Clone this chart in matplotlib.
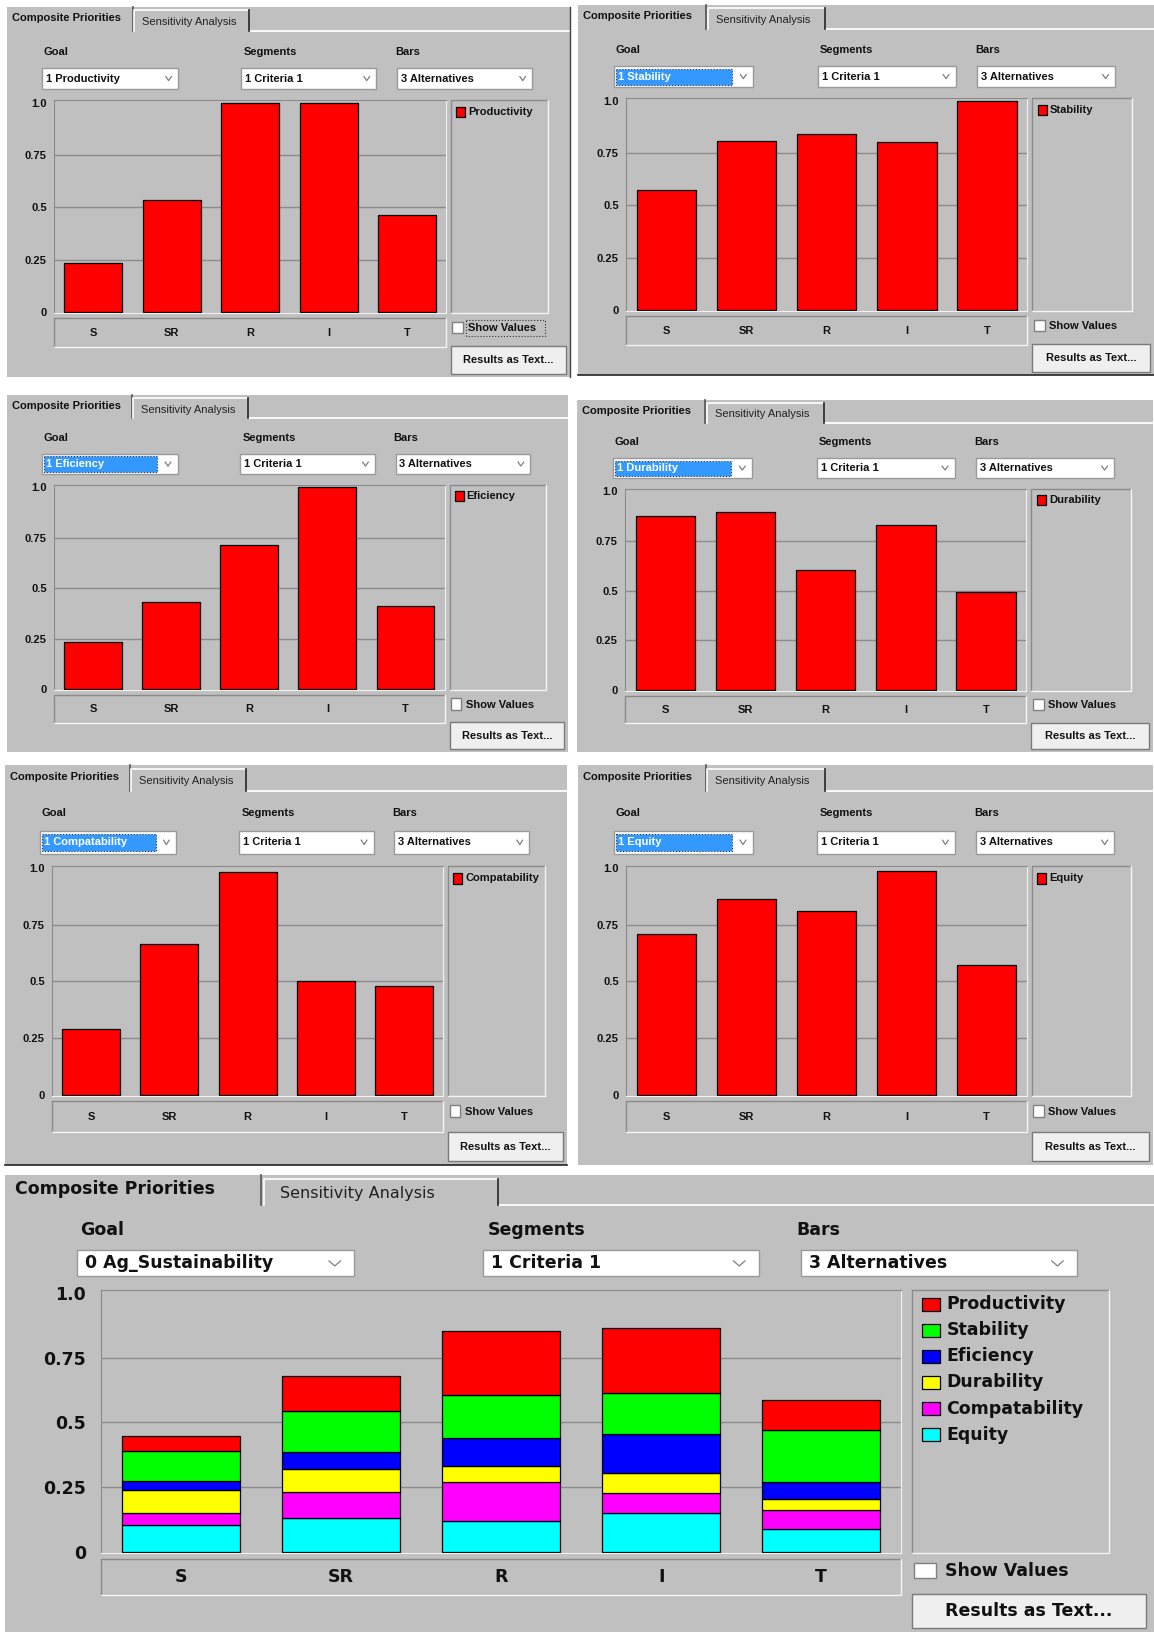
import matplotlib
matplotlib.use('Agg')
import matplotlib.pyplot as plt
from matplotlib.patches import Rectangle
import numpy as np

W, H = 1154, 1632
GRAY = '#c0c0c0'

alternatives = ['S', 'SR', 'R', 'I', 'T']
criteria = ['Productivity', 'Stability', 'Eficiency', 'Durability', 'Compatability', 'Equity']
crit_colors = ['#ff0000', '#00ff00', '#0000ff', '#ffff00', '#ff00ff', '#00ffff']

# local priorities of the alternatives under each criterion
productivity = [0.235, 0.535, 1.0, 1.0, 0.465]
stability = [0.575, 0.805, 0.842, 0.800, 1.0]
eficiency = [0.235, 0.434, 0.715, 1.0, 0.412]
durability = [0.875, 0.895, 0.604, 0.829, 0.490]
compatability = [0.291, 0.666, 0.982, 0.500, 0.481]
equity = [0.709, 0.866, 0.810, 0.987, 0.575]

# composite (Ag_Sustainability) segments per criterion
seg_productivity = [0.056, 0.136, 0.249, 0.251, 0.116]
seg_stability = [0.116, 0.160, 0.168, 0.159, 0.199]
seg_eficiency = [0.036, 0.066, 0.108, 0.151, 0.066]
seg_durability = [0.089, 0.087, 0.060, 0.078, 0.044]
seg_compatability = [0.046, 0.101, 0.150, 0.077, 0.075]
seg_equity = [0.104, 0.131, 0.120, 0.150, 0.086]

fig = plt.figure(figsize=(W / 100, H / 100), dpi=100)
fig.patch.set_facecolor('white')
bg = fig.add_axes([0, 0, 1, 1])
bg.set_xlim(0, W)
bg.set_ylim(H, 0)
bg.axis('off')


def rect(x0, y0, x1, y1, fc, ec='none', lw=1, z=2, ls='-'):
    bg.add_patch(Rectangle((x0, y0), x1 - x0, y1 - y0, facecolor=fc, edgecolor=ec,
                           lw=lw, zorder=z, linestyle=ls))


def etched(x0, y0, x1, y1, z=3):
    rect(x0, y0, x1, y1, GRAY, z=z)
    bg.plot([x0, x0, x1], [y1, y0, y0], color='#8a8a8a', lw=1, zorder=z + 0.5)
    bg.plot([x0, x1, x1], [y1, y1, y0], color='#f4f4f4', lw=1, zorder=z + 0.5)


def draw_panel(box, goal, names, series, cols, legend_cols, highlight=False, focus=False, big=False):
    x0, y0, x1, y1 = box
    w, h = x1 - x0, y1 - y0
    X = lambda f: x0 + f * w
    Y = lambda f: y0 + f * h
    fam = 'DejaVu Sans' if big else 'Liberation Sans'
    fs = 12.5 if big else 8.0
    txt = dict(family=fam, fontsize=fs, fontweight='bold', color='#111111', va='center', zorder=8)

    rect(x0, y0, x1, y1, GRAY, z=1)

    # tabs
    bg.plot([X(0.429), x1], [Y(0.065)] * 2, color='white', lw=1.3, zorder=3)
    bg.plot([X(0.223)] * 2, [Y(0.0), Y(0.065)], color='#555555', lw=1.2, zorder=3)
    bg.plot([X(0.225), X(0.225), X(0.428)], [Y(0.065), Y(0.009), Y(0.009)], color='white', lw=1.2, zorder=3)
    bg.plot([X(0.429)] * 2, [Y(0.009), Y(0.065)], color='#333333', lw=1.3, zorder=3)
    bg.text(X(0.0085), Y(0.030), 'Composite Priorities', ha='left', **txt)
    t2 = dict(txt)
    t2.update(fontweight='normal', color='#222222', fontsize=fs * (0.92 if big else 1.0))
    bg.text(X(0.239), Y(0.041), 'Sensitivity Analysis', ha='left', **t2)

    # combo boxes
    for fx, lab in [(0.065, 'Goal'), (0.4205, 'Segments'), (0.689, 'Bars')]:
        bg.text(X(fx), Y(0.1205), lab, ha='left', **txt)
    combos = [(0.0628, 0.304, goal), (0.416, 0.656, '1 Criteria 1'), (0.6926, 0.933, '3 Alternatives')]
    for i, (fa, fb, lab) in enumerate(combos):
        rect(X(fa), Y(0.165), X(fb), Y(0.222), 'white', ec='#9a9a9a', lw=1, z=3)
        cx, cy = X(fb) - 0.017 * w, Y(0.1935)
        a, b = 0.005 * w, 0.0055 * h
        bg.plot([cx - a, cx, cx + a], [cy - b, cy + b, cy - b], color='#808080', lw=0.9, zorder=5)
        tc = '#111111'
        if i == 0 and highlight:
            rect(X(fa) + 0.003 * w, Y(0.172), X(fb) - 0.036 * w, Y(0.215), '#3399ff',
                 ec='#333333', lw=0.8, z=4, ls=':')
            tc = 'white'
        d = dict(txt)
        d['color'] = tc
        bg.text(X(fa) + 0.007 * w, Y(0.1935), lab, ha='left', **d)

    # chart
    ax = fig.add_axes([X(0.0837) / W, 1 - Y(0.827) / H, 0.6963 * w / W, 0.575 * h / H])
    ax.set_facecolor(GRAY)
    ax.set_xlim(-0.5, 4.5)
    ax.set_ylim(-0.005, 1.011)
    for v in (0.25, 0.5, 0.75):
        ax.axhline(v, color='#8c8c8c', lw=1, zorder=0)
    xpos = np.arange(len(alternatives))
    bottom = np.zeros(len(alternatives))
    for vals, c in zip(series, cols):
        ax.bar(xpos, vals, 0.74, bottom=bottom, color=c, edgecolor='black', lw=0.9, zorder=2)
        bottom += np.array(vals)
    for s in ('left', 'top'):
        ax.spines[s].set_color('#8a8a8a')
    for s in ('right', 'bottom'):
        ax.spines[s].set_color('#f2f2f2')
    ax.set_yticks([0, 0.25, 0.5, 0.75, 1.0])
    ax.set_yticklabels(['0', '0.25', '0.5', '0.75', '1.0'])
    ax.set_xticks(xpos)
    ax.set_xticklabels(alternatives)
    ax.tick_params(axis='y', length=0, pad=0.013 * w * 0.72)
    ax.tick_params(axis='x', length=0, pad=0.053 * h * 0.72)
    for t in ax.get_yticklabels() + ax.get_xticklabels():
        t.set_family(fam)
        t.set_fontsize(fs)
        t.set_fontweight('bold')
        t.set_color('#111111')
    for t in ax.get_xticklabels():
        t.set_va('center')

    # category strip
    etched(X(0.0837), Y(0.841), X(0.780), Y(0.918))

    # legend
    etched(X(0.789), Y(0.252), X(0.961), Y(0.827))
    for i, (nm, c) in enumerate(zip(names, legend_cols)):
        yc = Y(0.283 + i * 0.057)
        rect(X(0.798), yc - 0.014 * h, X(0.814), yc + 0.014 * h, c, ec='black', lw=0.9, z=5)
        bg.text(X(0.8195), yc, nm, ha='left', **txt)

    # show values + button
    rect(X(0.791), Y(0.850), X(0.810), Y(0.881), 'white', ec='#808080', lw=1, z=4)
    bg.text(X(0.818), Y(0.867), 'Show Values', ha='left', **txt)
    if focus:
        rect(X(0.815), Y(0.846), X(0.955), Y(0.888), 'none', ec='#333333', lw=0.8, z=5, ls=':')
    rect(X(0.789), Y(0.917), X(0.993), Y(0.991), '#efefef', ec='#7a7a7a', lw=1, z=4)
    bg.text(X(0.891), Y(0.954), 'Results as Text...', ha='center', **txt)


single = [productivity, stability, eficiency, durability, compatability, equity]
boxes = [(7, 7, 570, 377), (578, 5, 1154, 375), (7, 395, 568, 752),
         (577, 400, 1153, 752), (5, 765, 567, 1165), (578, 765, 1153, 1165)]
for k, (bx, crit, vals) in enumerate(zip(boxes, criteria, single)):
    draw_panel(bx, '1 ' + crit, [crit], [vals], ['#ff0000'], ['#ff0000'],
               highlight=(k > 0), focus=(k == 0))

# edges between screenshots
bg.plot([570, 570], [7, 377], color='#444444', lw=1, zorder=9)
bg.plot([578, 1154], [375, 375], color='#222222', lw=1.2, zorder=9)
bg.plot([5, 567], [1165, 1165], color='#222222', lw=1.2, zorder=9)

stack = [seg_equity, seg_compatability, seg_durability, seg_eficiency, seg_stability, seg_productivity]
draw_panel((5, 1175, 1154, 1632), '0 Ag_Sustainability', criteria, stack,
           crit_colors[::-1], crit_colors, big=True)

fig.savefig('out.png', dpi=100)
